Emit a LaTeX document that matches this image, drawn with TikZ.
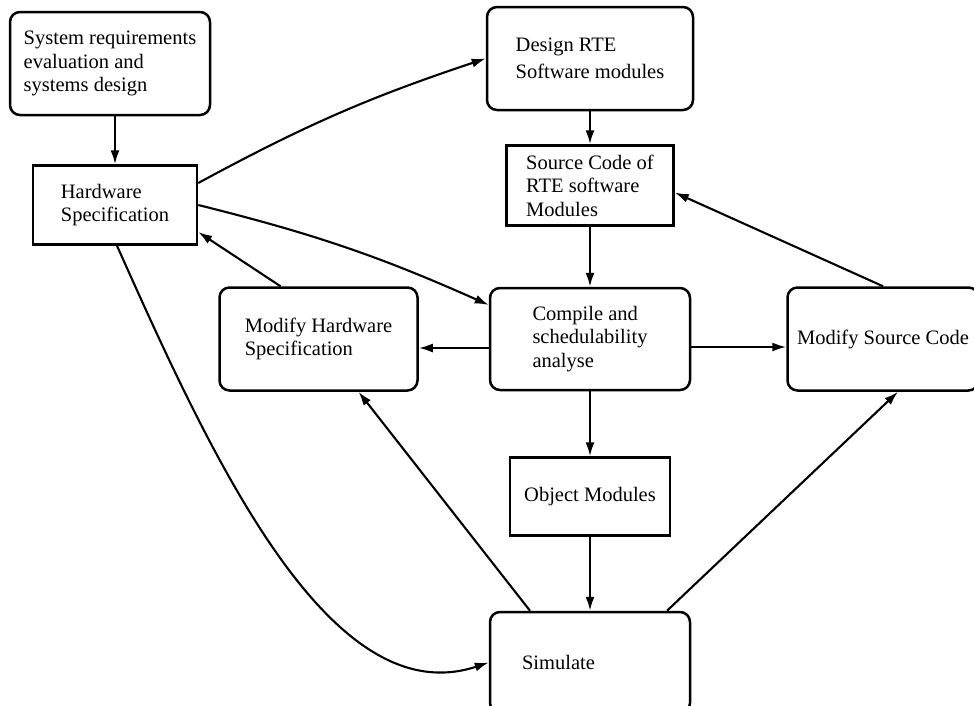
\documentclass[tikz,border=0pt]{standalone}
\usepackage{fontspec}
\setmainfont{Liberation Serif}
\usetikzlibrary{arrows.meta,positioning}

\begin{document}
\begin{tikzpicture}[x=1pt,y=1pt,>={Latex[length=14pt,width=9pt]},every node/.style={font=\fontsize{20.5}{23.5}\selectfont, align=left, inner sep=6pt}, roundblock/.style={draw, line width=2.5pt, rounded corners=10pt}, plainblock/.style={draw, line width=2.5pt}, flow/.style={->, line width=2.1pt}]
        \useasboundingbox (0,0) rectangle (974,-705);
        \node[roundblock, minimum width=200pt, minimum height=103pt] (sysreq) at (110,-63.5) {System requirements\\evaluation and\\systems design};
        \node[plainblock, minimum width=164pt, minimum height=79pt, below=48pt of sysreq, xshift=5pt] (hwspec) {Hardware\\Specification};
        \node[roundblock, minimum width=206pt, minimum height=103pt] (design) at (590,-58.5) {Design RTE\\[4pt]Software modules};
        \node[plainblock, minimum width=167pt, minimum height=80pt, below=33pt of design] (srccode) {Source Code of\\RTE software\\Modules};
        \node[roundblock, minimum width=200pt, minimum height=102pt, below=60pt of srccode] (compile) {Compile and\\schedulability\\analyse};
        \node[roundblock, minimum width=198pt, minimum height=103pt, left=70pt of compile] (modhw) {Modify Hardware\\Specification};
        \node[roundblock, minimum width=191pt, minimum height=103pt, right=95pt of compile] (modsrc) {Modify Source Code};
        \node[plainblock, minimum width=160pt, minimum height=78pt, below=65pt of compile] (objmod) {Object Modules};
        \node[roundblock, minimum height=101pt, inner xsep=32pt, text width=136pt, below=74pt of objmod] (simulate) {Simulate};

        \draw[flow] (sysreq.south -| hwspec.north) -- (hwspec.north);
        \draw[flow] ([yshift=22pt]hwspec.east) to[bend left=5] (design.west);
        \draw[flow] (hwspec.east) to[bend left=5] ([yshift=34pt]compile.west);
        \draw[flow] ([xshift=-38pt]modhw.north) -- ([yshift=-27pt]hwspec.east);
        \draw[flow] (design) -- (srccode);
        \draw[flow] (srccode) -- (compile);
        \draw[flow] ([yshift=-9pt]compile.west) -- ([yshift=-9pt]compile.west -| modhw.east);
        \draw[flow] ([yshift=-8pt]compile.east) -- ([yshift=-8pt]compile.east -| modsrc.west);
        \draw[flow] (modsrc.north) -- ([yshift=-7pt]srccode.east);
        \draw[flow] (compile) -- (objmod);
        \draw[flow] (objmod) -- (simulate);
        \draw[flow] ([xshift=2pt]hwspec.south) .. controls +(93,-208) and +(-160,-53) .. (simulate.west);
        \draw[flow] ([xshift=-60pt]simulate.north) -- ([xshift=40pt]modhw.south);
        \draw[flow] ([xshift=77pt]simulate.north) -- ([xshift=15pt]modsrc.south);
    \end{tikzpicture}
\end{document}
